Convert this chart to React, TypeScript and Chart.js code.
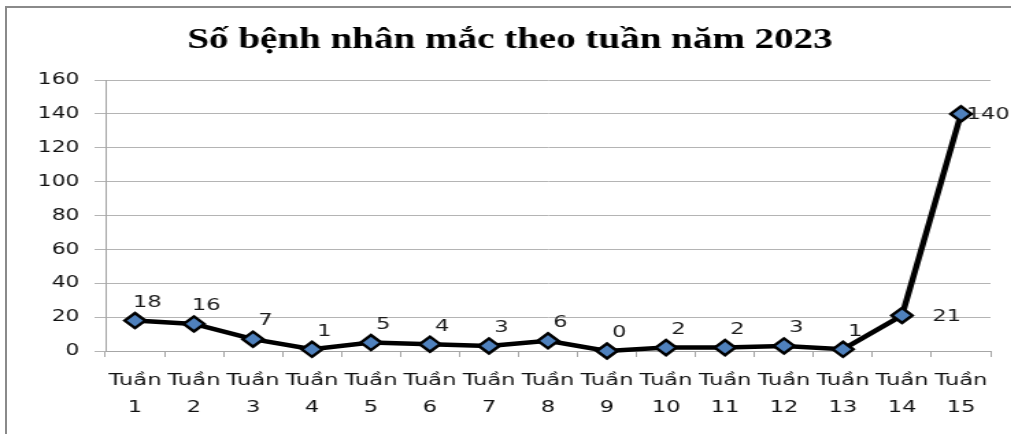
import React, { useEffect, useRef } from "react";
import { Chart, registerables } from "chart.js";

Chart.register(...registerables);

const TITLE = "Số bệnh nhân mắc theo tuần năm 2023";
const WEEKS = ["1", "2", "3", "4", "5", "6", "7", "8", "9", "10", "11", "12", "13", "14", "15"];
const CATEGORIES = WEEKS.map((w) => ["Tuần", w]);
const PATIENTS = [18, 16, 7, 1, 5, 4, 3, 6, 0, 2, 2, 3, 1, 21, 140];
const LABEL_SIDE = ["top", "top", "top", "top", "top", "top", "top", "top", "top", "top", "top", "top", "top", "right-wide", "right"];
const Y_MIN = 0;
const Y_MAX = 160;
const Y_STEP = 20;

const S = 1.37;
const FULL_W = 1011;
const H = 434;
const W = Math.round(FULL_W / S);

const labelPlugin = {
  id: "valueLabels",
  afterDatasetsDraw(chart: any) {
    const ctx = chart.ctx;
    const meta = chart.getDatasetMeta(0);
    ctx.save();
    ctx.font = "16.5px 'DejaVu Sans'";
    ctx.fillStyle = "#1a1a1a";
    ctx.textBaseline = "middle";
    meta.data.forEach((pt: any, i: number) => {
      const v = chart.data.datasets[0].data[i];
      const side = LABEL_SIDE[i];
      if (side === "right" || side === "right-wide") {
        ctx.textAlign = "left";
        ctx.fillText(String(v), pt.x + (side === "right-wide" ? 22 : 4), pt.y + 1);
      } else {
        ctx.textAlign = "center";
        ctx.fillText(String(v), pt.x + 9, pt.y - 18);
      }
    });
    ctx.restore();
  },
};

const titlePlugin = {
  id: "manualTitle",
  afterDraw(chart: any) {
    const ctx = chart.ctx;
    ctx.save();
    ctx.font = "bold 28.5px 'Liberation Serif'";
    ctx.fillStyle = "#000";
    ctx.textAlign = "center";
    ctx.textBaseline = "middle";
    ctx.fillText(TITLE, 510 / S, 41);
    ctx.restore();
  },
};

export default function App() {
  const ref = useRef<HTMLCanvasElement | null>(null);
  useEffect(() => {
    if (!ref.current) return;
    const chart = new Chart(ref.current, {
      type: "line",
      data: {
        labels: CATEGORIES,
        datasets: [
          {
            data: PATIENTS,
            borderColor: "#000",
            borderWidth: 4.5,
            tension: 0,
            pointStyle: "rectRot",
            pointRadius: 7.5,
            pointBackgroundColor: "#4F81BD",
            pointBorderColor: "#000",
            pointBorderWidth: 2.5,
            clip: false,
          } as any,
        ],
      },
      options: {
        responsive: false,
        maintainAspectRatio: false,
        animation: false,
        devicePixelRatio: 1,
        layout: { padding: { left: 0, right: 15, top: 80, bottom: 0 } },
        plugins: {
          legend: { display: false },
          tooltip: { enabled: false },
          title: { display: false },
        },
        scales: {
          x: {
            type: "category",
            offset: true,
            grid: {
              offset: true,
              drawOnChartArea: false,
              drawTicks: true,
              tickLength: 6,
              color: "#a6a6a6",
            },
            border: { color: "#a6a6a6", width: 1 },
            ticks: {
              color: "#111",
              padding: 10,
              maxRotation: 0,
              autoSkip: false,
              font: { family: "'DejaVu Sans'", size: 16.5, lineHeight: 1.65 },
            },
            afterFit(scale: any) {
              scale.height = 83;
            },
          },
          y: {
            min: Y_MIN,
            max: Y_MAX,
            ticks: {
              stepSize: Y_STEP,
              color: "#111",
              padding: 11,
              font: { family: "'DejaVu Sans'", size: 16 },
            },
            grid: { color: "#b4b4b4", tickLength: 8 },
            border: { color: "#a6a6a6", width: 1 },
            afterFit(scale: any) {
              scale.width = 77;
            },
          },
        },
      } as any,
      plugins: [labelPlugin, titlePlugin],
    });
    return () => chart.destroy();
  }, []);

  return (
    <div style={{ position: "fixed", left: 0, top: 0, width: FULL_W, height: H, overflow: "hidden", background: "#fff" }}>
      <div
        style={{
          position: "absolute",
          left: 0,
          top: 0,
          width: W,
          height: H,
          transform: `scaleX(${S})`,
          transformOrigin: "0 0",
        }}
      >
        <canvas ref={ref} width={W} height={H} style={{ display: "block", width: W, height: H }} />
      </div>
      <div
        style={{
          position: "absolute",
          left: 5,
          top: 6,
          right: 0,
          bottom: 0,
          borderTop: "2px solid #8a8a8a",
          borderLeft: "2px solid #8a8a8a",
          pointerEvents: "none",
        }}
      />
    </div>
  );
}
